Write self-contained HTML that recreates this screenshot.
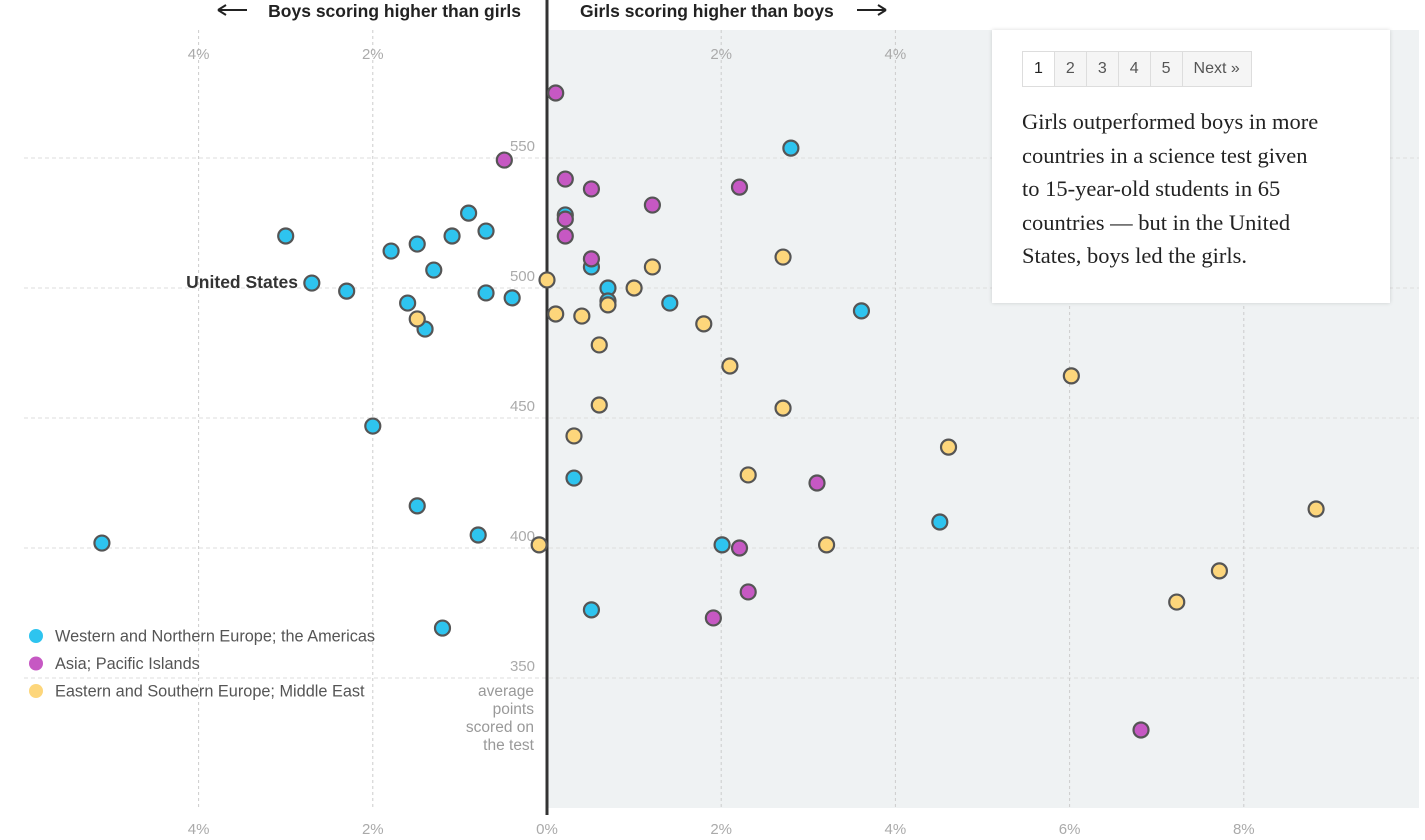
<!DOCTYPE html>
<html><head><meta charset="utf-8">
<style>
body{margin:0;width:1425px;height:840px;overflow:hidden;background:#fff;font-family:"Liberation Sans",sans-serif;}
#box{position:absolute;left:992px;top:30px;width:398px;height:273px;background:#fff;box-shadow:0 0 4px rgba(0,0,0,0.15);}
#pager{position:absolute;left:30px;top:21px;display:flex;border:1px solid #ddd;}
#pager div{height:34px;line-height:34px;padding:0 11px;font-size:16px;color:#555;border-left:1px solid #ddd;background:#f5f5f5;}
#pager div:first-child{border-left:none;background:#fff;color:#222;}
#note{position:absolute;left:30px;top:75px;width:303px;font-family:"Liberation Serif",serif;font-size:22.5px;line-height:33.5px;color:#222;}
</style></head><body>
<svg id="chart" width="1425" height="840" style="position:absolute;left:0;top:0"></svg>
<div id="box">
<div id="pager">
<div>1</div><div>2</div><div>3</div><div>4</div><div>5</div><div>Next »</div>
</div>
<div id="note">Girls outperformed boys in more countries in a science test given to 15-year-old students in 65 countries — but in the United States, boys led the girls.</div>
</div>
<script>
const blueX=[-5.11,-3.0,-2.7,-2.3,-2.0,-1.79,-1.6,-1.49,-1.49,-1.4,-1.3,-1.2,-1.09,-0.9,-0.79,-0.7,-0.7,-0.4,0.21,0.31,0.51,0.51,0.7,0.7,1.41,2.01,2.8,3.61,4.51];
const blueY=[401.9,520,501.9,498.8,446.9,514.2,494.2,516.9,416.2,484.2,506.9,369.2,520,528.8,405,521.9,498.1,496.2,528.1,426.9,508.1,376.2,500,495,494.2,401.2,553.8,491.2,410];
const pinkX=[0.1,-0.49,0.21,0.51,2.21,1.21,0.21,0.21,0.51,3.1,2.21,2.31,1.91,6.82];
const pinkY=[575,549.2,541.9,538.1,538.8,531.9,526.5,520,511.2,425,400,383.1,373.1,330];
const yellowX=[0,0.1,0.4,-1.49,0.6,0.7,1.0,1.21,1.8,2.71,2.1,0.6,2.71,0.31,2.31,4.61,6.02,3.21,-0.09,7.72,7.23,8.83];
const yellowY=[503.1,490,489.2,488.1,478.1,493.5,500,508.1,486.2,511.9,470,455,453.8,443.1,428.1,438.8,466.2,401.2,401.2,391.2,379.2,415];
const xTicks=[-4,-2,0,2,4,6,8];
const yTicks=[350,400,450,500,550];
const NS="http://www.w3.org/2000/svg";
const svg=document.getElementById('chart');
const sx=v=>547+v*87.1;
const sy=v=>288-(v-500)*2.6;
function el(t,a,p){const e=document.createElementNS(NS,t);for(const k in a)e.setAttribute(k,a[k]);(p||svg).appendChild(e);return e;}
const bg=el('rect',{x:547,y:30,width:872,height:778,fill:'#eff2f3'});


yTicks.forEach(t=>{
 const l=el('line',{x1:24,x2:1419,y1:sy(t),y2:sy(t),stroke:'#ddd','stroke-dasharray':'4,3'});
 
 
 const tx=el('text',{x:535,y:sy(t)-7,'text-anchor':'end','font-size':15,fill:'#aaa'});
 tx.textContent=t;
 
 
});
xTicks.forEach(t=>{
 if(t!==0){const l=el('line',{x1:sx(t),x2:sx(t),y1:30,y2:808,stroke:'#ccc','stroke-dasharray':'3,3'});
 
 }
 const lab=Math.abs(t)+'%';
 const b=el('text',{x:sx(t),y:834,'text-anchor':'middle','font-size':15,fill:'#aaa'});
 b.textContent=lab;
 
 
 if(t!==0&&t<=4){const tp=el('text',{x:sx(t),y:59,'text-anchor':'middle','font-size':15,fill:'#aaa'});
 tp.textContent=lab;
 
 }
});
const zl=el('line',{x1:547,x2:547,y1:0,y2:815,stroke:'#333','stroke-width':3});


function series(xs,ys,c,name){xs.forEach((x,i)=>{
 const d=el('circle',{cx:sx(x),cy:sy(ys[i]),r:7.5,fill:c,stroke:'#555','stroke-width':2.2});
 
 
});}
series(blueX,blueY,'#2ec4ef','point-europe-americas');
series(pinkX,pinkY,'#c658c3','point-asia-pacific');
series(yellowX,yellowY,'#fdd67b','point-east-south-europe-middle-east');
function txt(x,y,s,a,name){const t=el('text',Object.assign({x:x,y:y},a));t.textContent=s;
 
 return t;}
txt(298,288,'United States',{'text-anchor':'end','font-size':17.5,'font-weight':'bold',fill:'#333'},'us-label');
txt(521,17,'Boys scoring higher than girls',{'text-anchor':'end','font-size':17.5,'font-weight':'bold',fill:'#222'},'boys-higher-header');
txt(580,17,'Girls scoring higher than boys',{'font-size':17.5,'font-weight':'bold',fill:'#222'},'girls-higher-header');
const la=el('path',{d:'M218 10 H247 M218 10 L226 5 M218 10 L226 15',stroke:'#222','stroke-width':2,fill:'none'});


const ra=el('path',{d:'M857 10 H886 M886 10 L878 5 M886 10 L878 15',stroke:'#222','stroke-width':2,fill:'none'});


['average','points','scored on','the test'].forEach((s,i)=>txt(534,696+i*18,s,{'text-anchor':'end','font-size':15.5,fill:'#999'},'y-axis-title'));
[['#2ec4ef','Western and Northern Europe; the Americas'],['#c658c3','Asia; Pacific Islands'],['#fdd67b','Eastern and Southern Europe; Middle East']].forEach((d,i)=>{
 const c=el('circle',{cx:36,cy:636+i*27.5,r:7,fill:d[0]});
 
 
 txt(55,641.5+i*27.5,d[1],{'font-size':16.3,fill:'#555'},'legend-entry');
});
</script>
</body></html>
